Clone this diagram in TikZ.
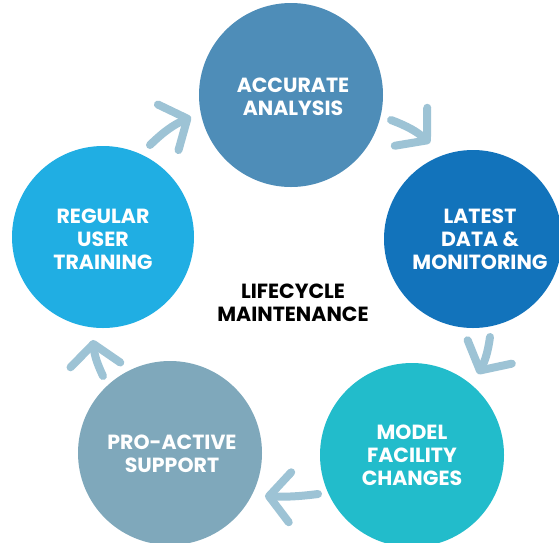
\documentclass[tikz,border=0pt]{standalone}
\usepackage{fontspec}
\setmainfont{Poppins}
\usetikzlibrary{arrows.meta}
\definecolor{cA}{HTML}{4E8DB8}
\definecolor{cB}{HTML}{1273BB}
\definecolor{cC}{HTML}{22BCCB}
\definecolor{cD}{HTML}{7FA8BB}
\definecolor{cE}{HTML}{20AEE3}
\definecolor{arr}{HTML}{9DC3D5}
\tikzset{
  bubble/.style={circle, inner sep=0pt, minimum size=184pt, text=white, align=center,
    font=\fontsize{20.5}{22.8}\selectfont\bfseries},
  cyc/.style={draw=arr, line width=8pt, line cap=round, line join=round,
    -{Straight Barb[length=21pt,width=50pt,round]}},
}
\begin{document}
\begin{tikzpicture}[x=1pt,y=-1pt]
\clip (0,0) rectangle (559,542);
\useasboundingbox (0,0) rectangle (559,542);
\fill[white] (0,0) rectangle (559,542);
\node[bubble, fill=cA] (acc) at (291,95) {};
\node[bubble, fill=cB, minimum size=178pt] (lat) at (473,239) {};
\node[bubble, fill=cC] (mod) at (412,455) {};
\node[bubble, fill=cD] (pro) at (170,453) {};
\node[bubble, fill=cE, minimum size=182pt] (reg) at (103,237) {};
\node[font=\fontsize{20.5}{22.8}\selectfont\bfseries, text=white, align=center] (accT) at (293,97) {ACCURATE\\ANALYSIS};
\node[font=\fontsize{20.5}{22.8}\selectfont\bfseries, text=white, align=center] (latT) at (480,239) {LATEST\\DATA \&\\MONITORING};
\node[font=\fontsize{20.5}{22.8}\selectfont\bfseries, text=white, align=center] (modT) at (412,455) {MODEL\\FACILITY\\CHANGES};
\node[font=\fontsize{20.5}{22.8}\selectfont\bfseries, text=white, align=center] (proT) at (172,454) {PRO-ACTIVE\\SUPPORT};
\node[font=\fontsize{20.5}{22.8}\selectfont\bfseries, text=white, align=center] (regT) at (103,239) {REGULAR\\USER\\TRAINING};
\node[font=\fontsize{20.5}{22.8}\selectfont\bfseries, align=center] (life) at (293,303) {LIFECYCLE\\MAINTENANCE};
\coordinate (a1s) at (150,145); \coordinate (a1e) at (191,117);
\coordinate (a2s) at (391,120); \coordinate (a2e) at (430,143);
\coordinate (a3s) at (490,337); \coordinate (a3e) at (478,374);
\coordinate (a4s) at (318,494); \coordinate (a4e) at (265,496);
\coordinate (a5s) at (103,376); \coordinate (a5e) at (93,340);
\draw[cyc] (a1s) to[bend left=10] (a1e);
\draw[cyc] (a2s) to[bend left=10] (a2e);
\draw[cyc] (a3s) to[bend left=10] (a3e);
\draw[cyc] (a4s) to[bend left=5] (a4e);
\draw[cyc] (a5s) to[bend left=10] (a5e);
\end{tikzpicture}
\end{document}
